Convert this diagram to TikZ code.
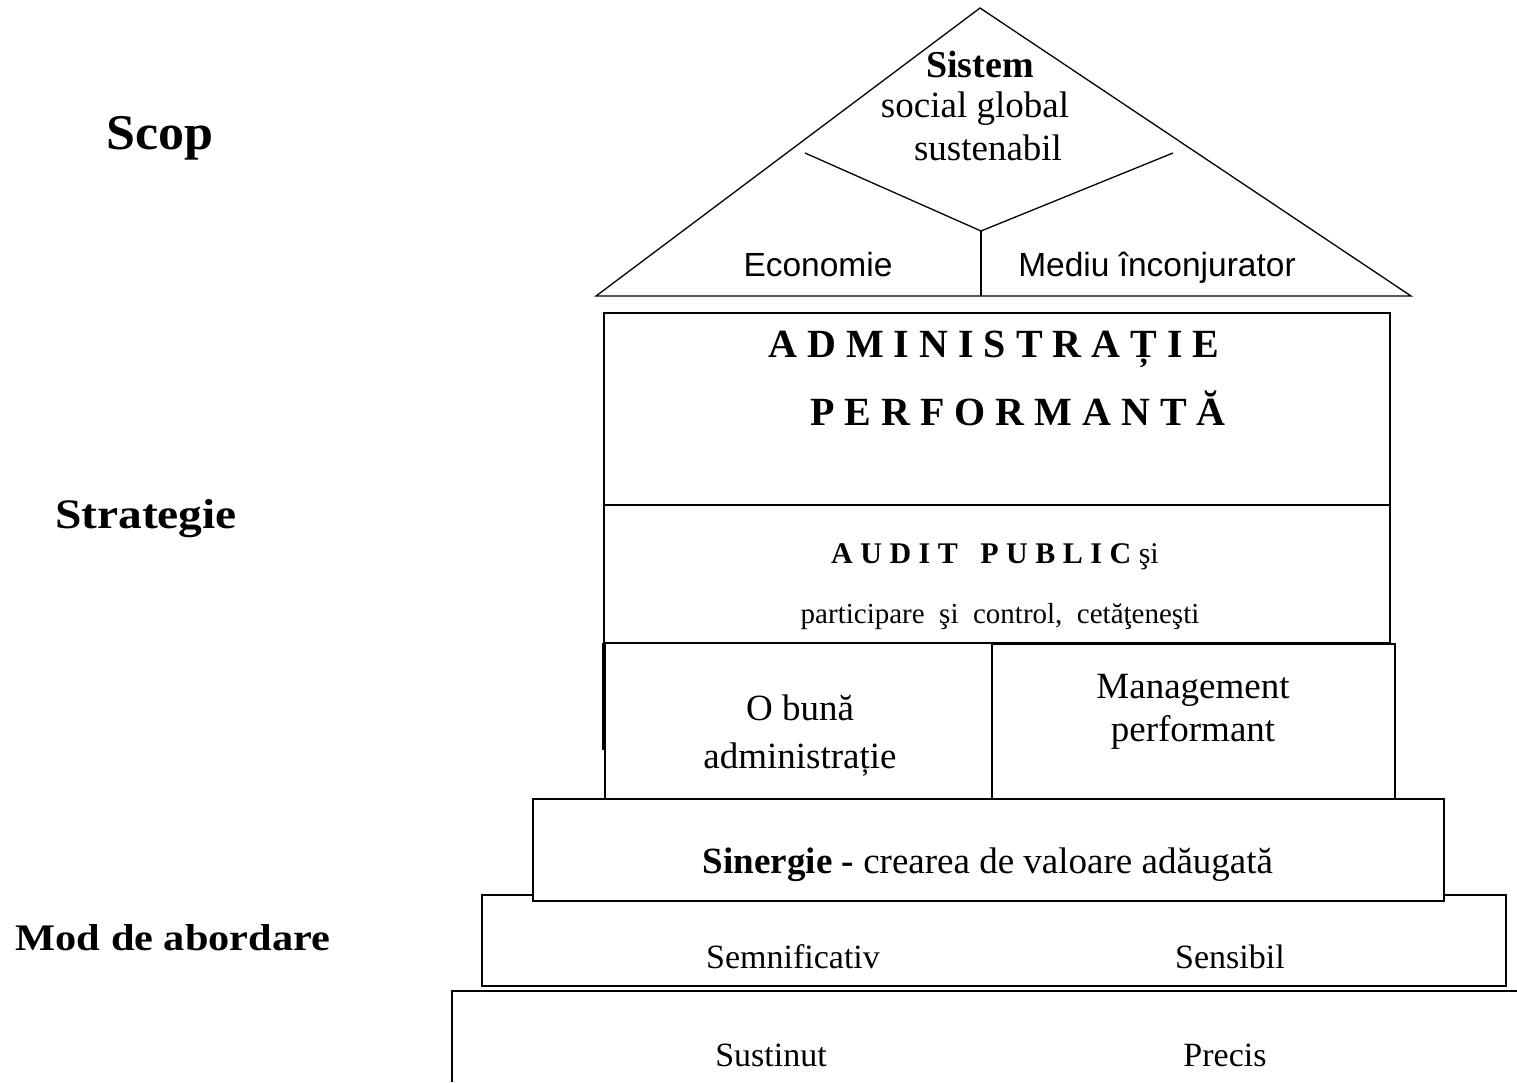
\documentclass[tikz,border=0pt]{standalone}
\usepackage{fontspec}
\usepackage{graphicx}
\setmainfont{Liberation Serif}
\newfontfamily\arialf{Liberation Sans}
\newcommand{\fsz}[1]{\fontsize{#1}{#1}\selectfont}
\tikzset{
  frame/.style={draw=black, line width=1.5pt},
  whitebox/.style={frame, fill=white},
  txt/.style={anchor=base, inner sep=0pt, outer sep=0pt},
}
\begin{document}
\begin{tikzpicture}[x=1pt,y=-1pt]
\useasboundingbox (0,0) rectangle (1517,1082);

% ---------- roof ----------
\coordinate (apex) at (980,8);
\coordinate (bl) at (596,296);
\coordinate (br) at (1411,296);
\coordinate (il) at (805,153);
\coordinate (iv) at (981,231);
\coordinate (ir) at (1173,153);
\coordinate (vb) at (981,296);
\draw[frame, line width=1.3pt] (bl) -- (apex) -- (br) -- cycle;
\draw[frame, line width=1.3pt] (il) -- (iv) -- (ir);
\draw[frame, line width=1.3pt] (iv) -- (vb);

% ---------- boxes ----------
\draw[frame] (452,1082) -- (452,991) -- (1517,991);
\draw[whitebox] (482,895) rectangle (1506,986);
\draw[whitebox] (533,799) rectangle (1444,901);
\draw[frame] (604,313) rectangle (1390,505);
\draw[frame] (604,505) rectangle (1390,643);
\draw[frame] (603,643) -- (603,750);
\draw[frame] (605,643) rectangle (992,799);
\draw[frame] (992,644) rectangle (1395,799);

% ---------- roof texts ----------
\node[txt, font=\fsz{38}\bfseries] (sistem) at (980,77) {Sistem};
\node[txt, font=\fsz{37}] (social) at (975,117) {social global};
\node[txt, font=\fsz{37}] (sust) at (988,160) {sustenabil};
\node[txt, font=\arialf\fsz{33.5}] (econ) at (818,276) {Economie};
\node[txt, font=\arialf\fsz{33.5}] (mediu) at (1157,276) {Mediu înconjurator};

% ---------- body texts ----------
\node[txt, font=\fsz{40}\bfseries] (admin) at (994,357) {A D M I N I S T R A Ț I E};
\node[txt, font=\fsz{40}\bfseries] (perf) at (1018,425) {P E R F O R M A N T Ă};
\node[txt, font=\fsz{30}] (audit) at (995,563) {\textbf{A U D I T\ \ \ P U B L I C} şi};
\node[txt, font=\fsz{29}] (partic) at (1000,623) {participare\ \ şi\ \ control,\ \ cetăţeneşti};
\node[txt, font=\fsz{37}] (obuna) at (800,720) {O bună};
\node[txt, font=\fsz{37}] (admst) at (800,768) {administrație};
\node[txt, font=\fsz{37}] (mgmt) at (1193,698) {Management};
\node[txt, font=\fsz{37}] (perfm) at (1193,741) {performant};
\node[txt, font=\fsz{37}] (sinerg) at (988,873) {\textbf{Sinergie -} crearea de valoare adăugată};
\node[txt, font=\fsz{34}] (semn) at (793,968) {Semnificativ};
\node[txt, font=\fsz{34}] (sens) at (1230,968) {Sensibil};
\node[txt, font=\fsz{34}] (sustin) at (771,1066) {Sustinut};
\node[txt, font=\fsz{34}] (precis) at (1225,1066) {Precis};

% ---------- left labels ----------
\node[txt, font=\fsz{50}\bfseries] (scop) at (160,149) {\scalebox{1.04}[1]{Scop}};
\node[txt, font=\fsz{42}\bfseries] (strat) at (146,528) {\scalebox{1.13}[1]{Strategie}};
\node[txt, font=\fsz{37.5}\bfseries] (mod) at (173,950) {\scalebox{1.13}[1]{Mod de abordare}};
\end{tikzpicture}
\end{document}
